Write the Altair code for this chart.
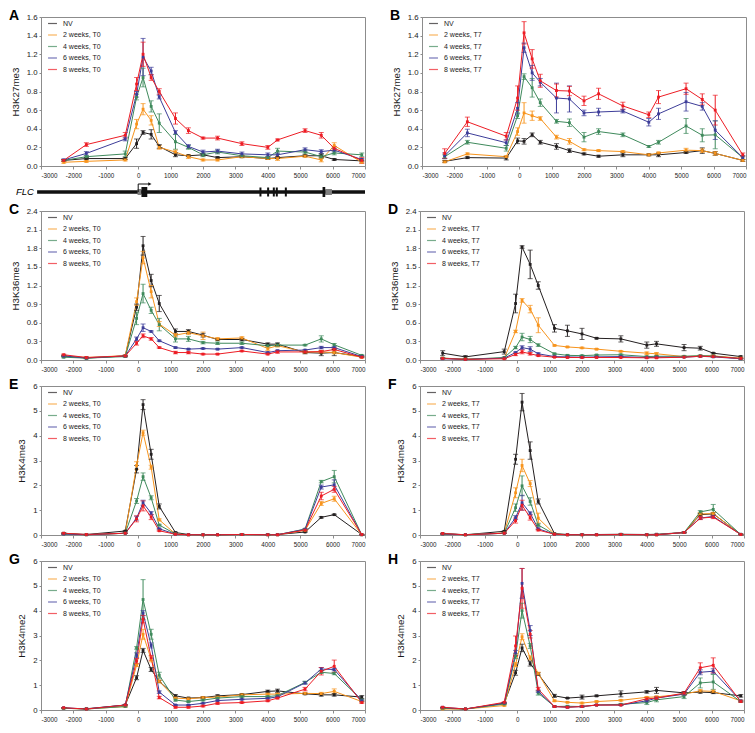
import altair as alt
import pandas as pd

# ---------------- data ----------------
X_POS = [-2300, -1600, -400, -50, 150, 400, 650, 1150, 1550, 2000, 2450, 3200, 4000, 4300, 5150, 5650, 6050, 6900]
X_TICKS = [-3000, -2000, -1000, 0, 1000, 2000, 3000, 4000, 5000, 6000, 7000]
SERIES = ["NV", "2 weeks", "4 weeks", "6 weeks", "8 weeks"]
COLORS = ["#231f20", "#f7941d", "#3f8a5c", "#3d3d99", "#ed1c24"]

Y_TICKS_K27 = [0.0, 0.2, 0.4, 0.6, 0.8, 1.0, 1.2, 1.4, 1.6]
Y_TICKS_K36 = [0.0, 0.3, 0.6, 0.9, 1.2, 1.5, 1.8, 2.1, 2.4]
Y_TICKS_K4 = [0, 1, 2, 3, 4, 5, 6]

# Panel A: H3K27me3, T0
A_VALS = [
    [0.06, 0.08, 0.08, 0.24, 0.36, 0.34, 0.21, 0.12, 0.11, 0.12, 0.09, 0.10, 0.08, 0.09, 0.11, 0.11, 0.07, 0.055],
    [0.04, 0.05, 0.065, 0.45, 0.61, 0.49, 0.20, 0.15, 0.10, 0.065, 0.065, 0.10, 0.08, 0.08, 0.105, 0.065, 0.22, 0.04],
    [0.06, 0.10, 0.13, 0.74, 0.95, 0.64, 0.46, 0.26, 0.20, 0.12, 0.15, 0.11, 0.09, 0.16, 0.15, 0.10, 0.14, 0.12],
    [0.065, 0.135, 0.29, 0.77, 1.17, 1.02, 0.74, 0.36, 0.21, 0.15, 0.16, 0.13, 0.12, 0.12, 0.175, 0.155, 0.17, 0.07],
    [0.06, 0.23, 0.33, 0.88, 1.20, 0.95, 0.80, 0.51, 0.38, 0.30, 0.30, 0.24, 0.20, 0.28, 0.38, 0.33, 0.19, 0.06],
]
A_ERRS = [
    [0.01, 0.01, 0.01, 0.05, 0.02, 0.05, 0.02, 0.02, 0.01, 0.01, 0.01, 0.01, 0.01, 0.01, 0.01, 0.02, 0.01, 0.01],
    [0.01, 0.01, 0.01, 0.05, 0.06, 0.05, 0.02, 0.02, 0.02, 0.01, 0.01, 0.01, 0.01, 0.02, 0.01, 0.02, 0.03, 0.01],
    [0.01, 0.01, 0.03, 0.03, 0.10, 0.06, 0.10, 0.08, 0.02, 0.02, 0.02, 0.01, 0.01, 0.03, 0.02, 0.02, 0.02, 0.02],
    [0.01, 0.02, 0.02, 0.03, 0.20, 0.04, 0.02, 0.02, 0.02, 0.02, 0.02, 0.02, 0.02, 0.02, 0.02, 0.02, 0.02, 0.01],
    [0.01, 0.02, 0.03, 0.07, 0.13, 0.03, 0.03, 0.06, 0.03, 0.01, 0.02, 0.02, 0.02, 0.01, 0.02, 0.03, 0.02, 0.03],
]

# Panel B: H3K27me3, T7
B_VALS = [
    [0.05, 0.09, 0.085, 0.27, 0.265, 0.335, 0.255, 0.21, 0.165, 0.13, 0.105, 0.12, 0.12, 0.12, 0.145, 0.165, 0.135, 0.06],
    [0.045, 0.13, 0.10, 0.37, 0.57, 0.54, 0.51, 0.31, 0.265, 0.175, 0.165, 0.155, 0.12, 0.14, 0.17, 0.165, 0.135, 0.06],
    [0.10, 0.255, 0.19, 0.54, 0.96, 0.84, 0.68, 0.48, 0.465, 0.31, 0.37, 0.335, 0.21, 0.255, 0.43, 0.33, 0.335, 0.09],
    [0.11, 0.355, 0.25, 0.62, 1.27, 1.00, 0.90, 0.73, 0.72, 0.57, 0.58, 0.59, 0.47, 0.56, 0.69, 0.64, 0.385, 0.09],
    [0.135, 0.475, 0.32, 0.73, 1.43, 1.15, 0.915, 0.81, 0.805, 0.70, 0.775, 0.645, 0.55, 0.74, 0.83, 0.715, 0.60, 0.12],
]
B_ERRS = [
    [0.01, 0.01, 0.02, 0.03, 0.03, 0.02, 0.02, 0.03, 0.02, 0.01, 0.01, 0.02, 0.01, 0.02, 0.01, 0.03, 0.02, 0.01],
    [0.01, 0.01, 0.01, 0.04, 0.11, 0.05, 0.02, 0.02, 0.03, 0.01, 0.01, 0.01, 0.01, 0.01, 0.02, 0.02, 0.02, 0.01],
    [0.02, 0.02, 0.03, 0.03, 0.03, 0.10, 0.04, 0.02, 0.04, 0.05, 0.03, 0.02, 0.01, 0.02, 0.08, 0.07, 0.15, 0.02],
    [0.03, 0.04, 0.03, 0.06, 0.05, 0.08, 0.04, 0.16, 0.14, 0.03, 0.04, 0.02, 0.04, 0.06, 0.10, 0.04, 0.10, 0.02],
    [0.05, 0.05, 0.04, 0.13, 0.12, 0.10, 0.07, 0.07, 0.05, 0.05, 0.06, 0.04, 0.03, 0.07, 0.06, 0.06, 0.16, 0.02],
]

# Panel C: H3K36me3, T0
C_VALS = [
    [0.065, 0.03, 0.065, 0.85, 1.84, 1.28, 0.91, 0.46, 0.46, 0.40, 0.33, 0.33, 0.255, 0.255, 0.12, 0.11, 0.12, 0.055],
    [0.065, 0.04, 0.07, 0.94, 1.65, 1.10, 0.58, 0.40, 0.44, 0.39, 0.34, 0.355, 0.185, 0.23, 0.13, 0.13, 0.12, 0.045],
    [0.045, 0.03, 0.055, 0.67, 1.07, 0.80, 0.57, 0.34, 0.34, 0.28, 0.27, 0.27, 0.23, 0.24, 0.24, 0.34, 0.245, 0.075],
    [0.065, 0.035, 0.065, 0.34, 0.52, 0.46, 0.31, 0.20, 0.175, 0.185, 0.175, 0.20, 0.12, 0.15, 0.16, 0.20, 0.20, 0.055],
    [0.085, 0.04, 0.065, 0.27, 0.39, 0.34, 0.20, 0.12, 0.12, 0.095, 0.095, 0.145, 0.095, 0.13, 0.13, 0.135, 0.17, 0.045],
]
C_ERRS = [
    [0.01, 0.01, 0.01, 0.05, 0.15, 0.10, 0.13, 0.04, 0.03, 0.03, 0.01, 0.02, 0.02, 0.02, 0.02, 0.04, 0.05, 0.01],
    [0.01, 0.01, 0.01, 0.06, 0.10, 0.10, 0.04, 0.03, 0.03, 0.06, 0.02, 0.02, 0.03, 0.02, 0.02, 0.02, 0.02, 0.01],
    [0.01, 0.01, 0.01, 0.10, 0.15, 0.05, 0.10, 0.05, 0.04, 0.02, 0.02, 0.02, 0.02, 0.02, 0.01, 0.05, 0.02, 0.01],
    [0.01, 0.01, 0.01, 0.03, 0.06, 0.01, 0.01, 0.01, 0.01, 0.01, 0.01, 0.01, 0.01, 0.01, 0.01, 0.02, 0.01, 0.01],
    [0.01, 0.01, 0.01, 0.03, 0.03, 0.02, 0.01, 0.02, 0.02, 0.01, 0.01, 0.01, 0.01, 0.02, 0.01, 0.02, 0.02, 0.01],
]

# Panel D: H3K36me3, T7
D_VALS = [
    [0.11, 0.05, 0.135, 0.91, 1.82, 1.54, 1.20, 0.51, 0.47, 0.42, 0.35, 0.34, 0.24, 0.26, 0.20, 0.19, 0.11, 0.055],
    [0.03, 0.015, 0.03, 0.46, 0.96, 0.82, 0.56, 0.235, 0.21, 0.195, 0.175, 0.14, 0.11, 0.10, 0.055, 0.065, 0.065, 0.03],
    [0.03, 0.01, 0.04, 0.20, 0.37, 0.33, 0.24, 0.10, 0.075, 0.07, 0.08, 0.085, 0.055, 0.06, 0.06, 0.07, 0.065, 0.02],
    [0.02, 0.01, 0.03, 0.12, 0.20, 0.175, 0.10, 0.055, 0.05, 0.045, 0.05, 0.055, 0.04, 0.045, 0.045, 0.06, 0.05, 0.02],
    [0.025, 0.01, 0.02, 0.09, 0.13, 0.10, 0.07, 0.045, 0.04, 0.04, 0.04, 0.04, 0.035, 0.035, 0.045, 0.06, 0.055, 0.025],
]
D_ERRS = [
    [0.04, 0.02, 0.04, 0.15, 0.02, 0.23, 0.06, 0.06, 0.09, 0.09, 0.01, 0.05, 0.05, 0.04, 0.05, 0.03, 0.01, 0.01],
    [0.01, 0.005, 0.01, 0.02, 0.03, 0.06, 0.12, 0.01, 0.01, 0.01, 0.01, 0.01, 0.02, 0.02, 0.01, 0.01, 0.01, 0.01],
    [0.01, 0.005, 0.01, 0.02, 0.06, 0.05, 0.02, 0.01, 0.01, 0.01, 0.01, 0.01, 0.01, 0.01, 0.01, 0.01, 0.01, 0.005],
    [0.005, 0.005, 0.005, 0.01, 0.03, 0.04, 0.015, 0.01, 0.01, 0.01, 0.005, 0.005, 0.005, 0.005, 0.005, 0.01, 0.005, 0.005],
    [0.005, 0.005, 0.005, 0.02, 0.03, 0.02, 0.01, 0.005, 0.005, 0.005, 0.005, 0.005, 0.005, 0.005, 0.005, 0.01, 0.01, 0.005],
]

# Panel E: H3K4me3, T0
E_VALS = [
    [0.07, 0.02, 0.16, 2.65, 5.25, 3.25, 1.15, 0.10, 0.02, 0.01, 0.01, 0.02, 0.02, 0.02, 0.12, 0.71, 0.82, 0.02],
    [0.05, 0.01, 0.07, 2.80, 4.12, 2.73, 0.61, 0.04, 0.01, 0.01, 0.01, 0.02, 0.01, 0.01, 0.19, 1.27, 1.46, 0.01],
    [0.04, 0.01, 0.07, 1.37, 2.35, 1.50, 0.40, 0.04, 0.01, 0.01, 0.01, 0.02, 0.01, 0.01, 0.24, 2.15, 2.35, 0.01],
    [0.04, 0.01, 0.07, 0.68, 1.30, 0.88, 0.25, 0.03, 0.01, 0.01, 0.01, 0.02, 0.01, 0.01, 0.23, 1.93, 2.02, 0.01],
    [0.07, 0.02, 0.07, 0.65, 1.17, 0.72, 0.17, 0.03, 0.01, 0.01, 0.01, 0.02, 0.01, 0.01, 0.20, 1.57, 1.84, 0.02],
]
E_ERRS = [
    [0.02, 0.01, 0.02, 0.15, 0.20, 0.20, 0.10, 0.02, 0.01, 0.01, 0.01, 0.01, 0.01, 0.01, 0.02, 0.03, 0.02, 0.01],
    [0.01, 0.01, 0.01, 0.15, 0.10, 0.08, 0.04, 0.01, 0.01, 0.01, 0.01, 0.01, 0.01, 0.01, 0.02, 0.08, 0.10, 0.01],
    [0.01, 0.01, 0.01, 0.10, 0.15, 0.08, 0.03, 0.01, 0.01, 0.01, 0.01, 0.01, 0.01, 0.01, 0.02, 0.05, 0.25, 0.01],
    [0.01, 0.01, 0.01, 0.08, 0.10, 0.06, 0.02, 0.01, 0.01, 0.01, 0.01, 0.01, 0.01, 0.01, 0.02, 0.08, 0.20, 0.01],
    [0.01, 0.01, 0.01, 0.12, 0.20, 0.10, 0.02, 0.01, 0.01, 0.01, 0.01, 0.01, 0.01, 0.01, 0.02, 0.15, 0.12, 0.01],
]

# Panel F: H3K4me3, T7
F_VALS = [
    [0.06, 0.01, 0.15, 3.05, 5.35, 3.40, 1.35, 0.06, 0.02, 0.02, 0.02, 0.03, 0.02, 0.03, 0.10, 0.82, 0.85, 0.03],
    [0.04, 0.01, 0.08, 1.70, 2.80, 2.07, 0.68, 0.04, 0.01, 0.01, 0.01, 0.02, 0.01, 0.01, 0.10, 0.85, 0.86, 0.02],
    [0.04, 0.01, 0.07, 1.10, 1.98, 1.35, 0.40, 0.03, 0.01, 0.01, 0.01, 0.02, 0.01, 0.01, 0.10, 0.93, 1.03, 0.02],
    [0.04, 0.01, 0.07, 0.70, 1.30, 0.88, 0.25, 0.03, 0.01, 0.01, 0.01, 0.02, 0.01, 0.01, 0.10, 0.68, 0.75, 0.02],
    [0.06, 0.01, 0.07, 0.58, 1.20, 0.70, 0.20, 0.03, 0.01, 0.01, 0.01, 0.02, 0.01, 0.01, 0.10, 0.68, 0.72, 0.02],
]
F_ERRS = [
    [0.01, 0.01, 0.02, 0.20, 0.35, 0.35, 0.10, 0.01, 0.01, 0.01, 0.01, 0.01, 0.01, 0.01, 0.02, 0.05, 0.05, 0.01],
    [0.01, 0.01, 0.01, 0.20, 0.25, 0.12, 0.20, 0.01, 0.01, 0.01, 0.01, 0.01, 0.01, 0.01, 0.01, 0.05, 0.05, 0.01],
    [0.01, 0.01, 0.01, 0.15, 0.40, 0.15, 0.05, 0.01, 0.01, 0.01, 0.01, 0.01, 0.01, 0.01, 0.01, 0.05, 0.20, 0.01],
    [0.01, 0.01, 0.01, 0.08, 0.30, 0.05, 0.03, 0.01, 0.01, 0.01, 0.01, 0.01, 0.01, 0.01, 0.01, 0.05, 0.05, 0.01],
    [0.01, 0.01, 0.01, 0.10, 0.20, 0.10, 0.03, 0.01, 0.01, 0.01, 0.01, 0.01, 0.01, 0.01, 0.01, 0.06, 0.06, 0.01],
]

# Panel G: H3K4me2, T0
G_VALS = [
    [0.07, 0.05, 0.20, 1.30, 2.40, 1.63, 1.15, 0.57, 0.48, 0.50, 0.57, 0.62, 0.75, 0.77, 0.65, 0.61, 0.61, 0.52],
    [0.07, 0.04, 0.14, 1.80, 3.05, 2.04, 1.15, 0.48, 0.45, 0.50, 0.52, 0.61, 0.64, 0.64, 0.67, 0.66, 0.75, 0.34],
    [0.07, 0.04, 0.14, 2.50, 4.45, 3.05, 1.40, 0.40, 0.34, 0.40, 0.48, 0.54, 0.54, 0.58, 1.11, 1.52, 1.47, 0.40],
    [0.09, 0.04, 0.20, 2.20, 3.90, 2.60, 0.72, 0.20, 0.20, 0.27, 0.38, 0.43, 0.47, 0.53, 1.09, 1.65, 1.63, 0.37],
    [0.09, 0.04, 0.20, 1.97, 3.66, 2.10, 0.50, 0.11, 0.11, 0.16, 0.27, 0.30, 0.37, 0.48, 0.84, 1.56, 1.76, 0.30],
]
G_ERRS = [
    [0.02, 0.02, 0.02, 0.08, 0.08, 0.08, 0.05, 0.05, 0.03, 0.03, 0.04, 0.03, 0.05, 0.07, 0.03, 0.05, 0.05, 0.06],
    [0.01, 0.01, 0.02, 0.05, 0.20, 0.10, 0.05, 0.03, 0.04, 0.04, 0.03, 0.04, 0.03, 0.03, 0.03, 0.05, 0.10, 0.03],
    [0.01, 0.01, 0.02, 0.05, 0.80, 0.20, 0.12, 0.04, 0.03, 0.03, 0.03, 0.03, 0.03, 0.03, 0.05, 0.05, 0.05, 0.03],
    [0.01, 0.01, 0.02, 0.10, 0.10, 0.10, 0.05, 0.02, 0.02, 0.02, 0.02, 0.02, 0.02, 0.02, 0.05, 0.06, 0.05, 0.03],
    [0.01, 0.01, 0.02, 0.10, 0.15, 0.10, 0.05, 0.03, 0.03, 0.03, 0.04, 0.03, 0.03, 0.03, 0.07, 0.15, 0.25, 0.03],
]

# Panel H: H3K4me2, T7
H_VALS = [
    [0.07, 0.04, 0.27, 1.50, 2.50, 1.87, 1.45, 0.57, 0.48, 0.52, 0.57, 0.65, 0.73, 0.79, 0.69, 0.72, 0.70, 0.57],
    [0.04, 0.04, 0.18, 1.83, 2.95, 2.10, 1.47, 0.37, 0.31, 0.28, 0.34, 0.39, 0.51, 0.53, 0.64, 0.77, 0.75, 0.37],
    [0.07, 0.04, 0.24, 2.17, 4.00, 2.58, 0.68, 0.14, 0.15, 0.14, 0.20, 0.23, 0.30, 0.41, 0.54, 1.09, 1.13, 0.34],
    [0.11, 0.04, 0.28, 2.30, 5.10, 3.20, 0.75, 0.14, 0.11, 0.14, 0.20, 0.20, 0.37, 0.48, 0.64, 1.52, 1.56, 0.37],
    [0.11, 0.04, 0.31, 2.58, 4.90, 3.05, 0.84, 0.14, 0.11, 0.14, 0.20, 0.20, 0.45, 0.48, 0.68, 1.70, 1.80, 0.34],
]
H_ERRS = [
    [0.02, 0.01, 0.02, 0.10, 0.15, 0.10, 0.05, 0.06, 0.02, 0.08, 0.03, 0.12, 0.05, 0.12, 0.04, 0.04, 0.04, 0.05],
    [0.01, 0.01, 0.02, 0.08, 0.12, 0.08, 0.05, 0.03, 0.02, 0.03, 0.03, 0.03, 0.03, 0.03, 0.04, 0.05, 0.05, 0.03],
    [0.01, 0.01, 0.02, 0.10, 0.30, 0.10, 0.08, 0.02, 0.02, 0.02, 0.02, 0.03, 0.08, 0.08, 0.08, 0.20, 0.30, 0.03],
    [0.01, 0.01, 0.02, 0.10, 0.60, 0.20, 0.05, 0.02, 0.02, 0.02, 0.02, 0.02, 0.04, 0.04, 0.05, 0.10, 0.10, 0.03],
    [0.01, 0.01, 0.02, 0.40, 0.80, 0.15, 0.07, 0.02, 0.02, 0.02, 0.02, 0.02, 0.05, 0.05, 0.06, 0.20, 0.30, 0.03],
]

# FLC gene model (bp coordinates)
GENE_SPAN = [-3120, 7000]
EXON_BLACK_START = [100, 5690]
EXON_BLACK_END = [280, 5773]
UTR_START = [-20, 5773]
UTR_END = [100, 5980]
SMALL_EXONS = [3773, 4010, 4186, 4278, 4557]
TSS_ARROW = [0, 360]

# ---------------- layout / style ----------------
W = 324
H = 149
FRAME = "#8c8c8c"
TXT = "#1a1a1a"
FONT = "Liberation Sans"


def make_panel(letter, tp, vals, errs, ymax, yticks, fmt, ytitle, gene=False):
    labels = ["NV"] + [f"{s}, {tp}" for s in SERIES[1:]]
    rows = []
    for si in range(5):
        for x, y, e in zip(X_POS, vals[si], errs[si]):
            rows.append({"x": x, "y": y, "lo": max(y - e, 0), "hi": y + e,
                         "s": labels[si], "k": si})
    df = pd.DataFrame(rows)

    xs = alt.Scale(domain=[-3000, 7000], nice=False, zero=False)
    ys = alt.Scale(domain=[0, ymax], nice=False)
    cs = alt.Scale(domain=labels, range=COLORS)

    xaxis = alt.Axis(values=X_TICKS, title=None, labelExpr="toString(datum.value)",
                     labelFontSize=6.3, labelOverlap=False, tickSize=3, labelPadding=3,
                     grid=False, domainColor=FRAME, tickColor=FRAME, labelColor=TXT,
                     labelFont=FONT)
    yaxis = alt.Axis(values=yticks, format=fmt, title=ytitle, labelFontSize=7.8,
                     tickSize=2, labelPadding=2, grid=False, domainColor=FRAME,
                     tickColor=FRAME, labelColor=TXT, titleFontSize=9.8,
                     titleFontWeight="normal", titleColor=TXT, titlePadding=6,
                     labelFont=FONT, titleFont=FONT, labelOverlap=False)
    leg = alt.Legend(title=None, orient="none", legendX=6, legendY=1,
                     symbolType="stroke", symbolSize=80, symbolStrokeWidth=1.2,
                     labelFontSize=7, labelColor=TXT, labelFont=FONT, rowPadding=2.5,
                     labelOffset=5, padding=0)

    X = lambda f: alt.X(f, scale=xs, axis=xaxis, title=None)
    Y = lambda f: alt.Y(f, scale=ys, axis=yaxis, title=ytitle)
    col = alt.Color("s:N", scale=cs, legend=leg)

    base = alt.Chart(df)
    line = base.mark_line(strokeWidth=1).encode(x=X("x:Q"), y=Y("y:Q"), color=col, detail="k:N")
    rule = base.mark_rule(strokeWidth=1).encode(x=X("x:Q"), y=Y("lo:Q"), y2="hi:Q", color=col)
    cap_lo = base.mark_tick(orient="horizontal", size=5, thickness=1).encode(
        x=X("x:Q"), y=Y("lo:Q"), color=col)
    cap_hi = base.mark_tick(orient="horizontal", size=5, thickness=1).encode(
        x=X("x:Q"), y=Y("hi:Q"), color=col)
    pts = base.mark_point(filled=True, size=8, opacity=1, shape="square").encode(
        x=X("x:Q"), y=Y("y:Q"), color=col)

    lt = alt.Chart(pd.DataFrame({"t": [letter]})).mark_text(
        fontSize=14, fontWeight="bold", align="left", baseline="top", font=FONT,
        color="#000").encode(text="t:N", x=alt.value(-32), y=alt.value(-8))

    layers = [line, rule, cap_lo, cap_hi, pts, lt]

    if gene:
        gy = H + 26
        gline = alt.Chart(pd.DataFrame({"a": [GENE_SPAN[0]], "b": [GENE_SPAN[1]]})).mark_rule(
            strokeWidth=3.5, color="#111").encode(
            x=X("a:Q"), x2="b:Q", y=alt.value(gy))
        utr = alt.Chart(pd.DataFrame({"a": UTR_START, "b": UTR_END})).mark_rect(
            color="#808080").encode(
            x=X("a:Q"), x2="b:Q", y=alt.value(gy - 3), y2=alt.value(gy + 3))
        exb = alt.Chart(pd.DataFrame({"a": EXON_BLACK_START, "b": EXON_BLACK_END})).mark_rect(
            color="#111").encode(
            x=X("a:Q"), x2="b:Q", y=alt.value(gy - 5), y2=alt.value(gy + 5))
        sex = alt.Chart(pd.DataFrame({"a": SMALL_EXONS})).mark_rule(
            strokeWidth=2, color="#111").encode(
            x=X("a:Q"), y=alt.value(gy - 4.5), y2=alt.value(gy + 4.5))
        tss_v = alt.Chart(pd.DataFrame({"a": [TSS_ARROW[0]]})).mark_rule(
            strokeWidth=1, color="#111").encode(
            x=X("a:Q"), y=alt.value(gy - 8), y2=alt.value(gy))
        tss_h = alt.Chart(pd.DataFrame({"a": [TSS_ARROW[0]], "b": [TSS_ARROW[1]]})).mark_rule(
            strokeWidth=1, color="#111").encode(
            x=X("a:Q"), x2="b:Q", y=alt.value(gy - 8))
        tss_head = alt.Chart(pd.DataFrame({"a": [TSS_ARROW[1]]})).mark_point(
            shape="triangle-right", filled=True, size=14, color="#111", opacity=1).encode(
            x=X("a:Q"), y=alt.value(gy - 8))
        flc = alt.Chart(pd.DataFrame({"t": ["FLC"]})).mark_text(
            fontSize=9.5, fontStyle="italic", align="left", baseline="middle",
            font=FONT, color="#000").encode(
            text="t:N", x=alt.value(-25), y=alt.value(gy))
        layers += [gline, utr, exb, sex, tss_v, tss_h, tss_head, flc]

    return alt.layer(*layers).properties(width=W, height=H)


pA = make_panel("A", "T0", A_VALS, A_ERRS, 1.6, Y_TICKS_K27, ".1f", "H3K27me3", gene=True)
pB = make_panel("B", "T7", B_VALS, B_ERRS, 1.6, Y_TICKS_K27, ".1f", "H3K27me3")
pC = make_panel("C", "T0", C_VALS, C_ERRS, 2.4, Y_TICKS_K36, ".1f", "H3K36me3")
pD = make_panel("D", "T7", D_VALS, D_ERRS, 2.4, Y_TICKS_K36, ".1f", "H3K36me3")
pE = make_panel("E", "T0", E_VALS, E_ERRS, 6, Y_TICKS_K4, "d", "H3K4me3")
pF = make_panel("F", "T7", F_VALS, F_ERRS, 6, Y_TICKS_K4, "d", "H3K4me3")
pG = make_panel("G", "T0", G_VALS, G_ERRS, 6, Y_TICKS_K4, "d", "H3K4me2")
pH = make_panel("H", "T7", H_VALS, H_ERRS, 6, Y_TICKS_K4, "d", "H3K4me2")


def row(a, b):
    return alt.hconcat(a, b, spacing=21).resolve_scale(color="independent")


chart = alt.vconcat(row(pA, pB), row(pC, pD), row(pE, pF), row(pG, pH), spacing=4).resolve_scale(
    color="independent"
).configure(padding=0, font=FONT).configure_view(stroke=FRAME, strokeWidth=1)

chart.save("out.html", embed_options={"renderer": "svg", "actions": False})
